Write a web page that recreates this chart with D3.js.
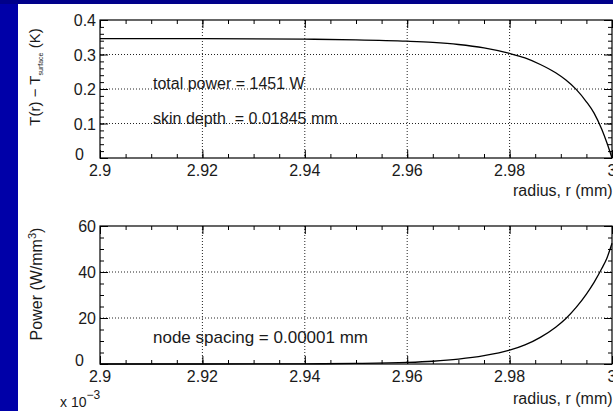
<!DOCTYPE html>
<html>
<head>
<meta charset="utf-8">
<script src="https://cdn.jsdelivr.net/npm/d3@7"></script>
<style>
  body { margin: 0; background: #fff; }
  svg { display: block; font-family: "Liberation Sans", Arial, sans-serif; }
</style>
</head>
<body>
<svg id="chart" width="613" height="411"></svg>
<script>
// radius values (mm)
const radius = [2.90, 2.92, 2.94, 2.95, 2.96, 2.965, 2.97, 2.975, 2.98, 2.983, 2.986, 2.989, 2.991, 2.993, 2.995, 2.9965, 2.998, 2.999, 3.0];
// T(r) - T_surface (K)
const tempDiff = [0.346, 0.3458, 0.3445, 0.3425, 0.3385, 0.335, 0.329, 0.319, 0.303, 0.290, 0.271, 0.247, 0.226, 0.199, 0.163, 0.130, 0.083, 0.044, 0.0];
// power density (W/mm^3)
const power = [0.0, 0.01, 0.08, 0.23, 0.68, 1.2, 2.1, 3.6, 6.0, 8.3, 11.6, 16.0, 19.8, 24.6, 30.4, 35.5, 41.5, 46.0, 52.5];

const xTicks = [2.9, 2.92, 2.94, 2.96, 2.98, 3.0];
const xTickLabels = ["2.9", "2.92", "2.94", "2.96", "2.98", "3"];
const topYTicks = [0, 0.1, 0.2, 0.3, 0.4];
const topYLabels = ["0", "0.1", "0.2", "0.3", "0.4"];
const botYTicks = [0, 20, 40, 60];
const botYLabels = ["0", "20", "40", "60"];

const svg = d3.select('#chart');
const ink = '#1a1a1a';

// slide background
svg.append('rect').attr('x', 0).attr('y', 0).attr('width', 613).attr('height', 411).attr('fill', '#0000a8');
svg.append('rect').attr('x', 0).attr('y', 0).attr('width', 613).attr('height', 4).attr('fill', '#00008a');
svg.append('rect').attr('x', 18).attr('y', 4).attr('width', 595).attr('height', 407).attr('fill', '#fff');

const x = d3.scaleLinear().domain([2.9, 3.0]).range([100, 612]);

function drawPanel(y, values, yTicks, yLabels, yMinorStep, gridY) {
    const [y0, y1] = y.range();
    const g = svg.append('g');

    // grid
    g.selectAll('.vgrid').data(xTicks.slice(1, -1)).enter().append('line')
        .attr('x1', d => x(d)).attr('x2', d => x(d))
        .attr('y1', y1).attr('y2', y0)
        .attr('stroke', '#222').attr('stroke-width', 1).attr('stroke-dasharray', '1,2');
    g.selectAll('.hgrid').data(gridY).enter().append('line')
        .attr('x1', 100).attr('x2', 612)
        .attr('y1', d => y(d)).attr('y2', d => y(d))
        .attr('stroke', '#222').attr('stroke-width', 1).attr('stroke-dasharray', '1,2');

    // minor + major ticks on all four sides, pointing inward
    const xMinor = d3.range(0, 21).map(i => 2.9 + i * 0.005);
    const yMinor = d3.range(0, Math.round((y.domain()[1]) / yMinorStep) + 1).map(i => i * yMinorStep);

    const tick = (axis, vals, size, transform) => g.append('g')
        .attr('transform', transform)
        .call(axis.tickValues(vals).tickSize(size).tickFormat('').tickSizeOuter(0))
        .call(s => s.select('.domain').remove())
        .call(s => s.selectAll('line').attr('stroke', '#000'));

    tick(d3.axisBottom(x), xMinor, -4, `translate(0,${y0})`);
    tick(d3.axisBottom(x), xTicks, -8, `translate(0,${y0})`);
    tick(d3.axisTop(x), xMinor, -4, `translate(0,${y1})`);
    tick(d3.axisTop(x), xTicks, -8, `translate(0,${y1})`);
    tick(d3.axisLeft(y), yMinor, -4, 'translate(100,0)');
    tick(d3.axisLeft(y), yTicks, -8, 'translate(100,0)');
    tick(d3.axisRight(y), yMinor, -4, 'translate(612,0)');
    tick(d3.axisRight(y), yTicks, -8, 'translate(612,0)');

    // frame
    g.append('rect').attr('x', 100).attr('y', y1).attr('width', 512).attr('height', y0 - y1)
        .attr('fill', 'none').attr('stroke', '#000').attr('stroke-width', 1.2);

    // curve
    const line = d3.line().x((d, i) => x(radius[i])).y(d => y(d)).curve(d3.curveMonotoneX);
    g.append('path').datum(values).attr('d', line)
        .attr('fill', 'none').attr('stroke', '#000').attr('stroke-width', 1.3);

    // tick labels
    g.selectAll('.xl').data(xTicks).enter().append('text')
        .attr('x', d => x(d)).attr('y', y0 + 18)
        .attr('text-anchor', 'middle').attr('font-size', 16).attr('fill', ink)
        .text((d, i) => xTickLabels[i]);
    g.selectAll('.yl').data(yTicks).enter().append('text')
        .attr('x', d => d === 0 ? 84 : 96).attr('y', d => y(d) + (d === 0 ? 2 : 6))
        .attr('text-anchor', 'end').attr('font-size', 16).attr('fill', ink)
        .text((d, i) => yLabels[i]);
    return g;
}

const yTop = d3.scaleLinear().domain([0, 0.4]).range([158, 20]);
const yBot = d3.scaleLinear().domain([0, 60]).range([364, 226]);

drawPanel(yTop, tempDiff, topYTicks, topYLabels, 0.02, [0.1, 0.2, 0.3]);
drawPanel(yBot, power, botYTicks, botYLabels, 5, [20, 40]);

// annotations
svg.append('text').attr('x', 153).attr('y', 89).attr('font-size', 16).attr('fill', ink).text('total power = 1451 W');
svg.append('text').attr('x', 153).attr('y', 124).attr('font-size', 16).attr('fill', ink)
    .attr('xml:space', 'preserve').style('white-space', 'pre').text('skin depth  = 0.01845 mm');
svg.append('text').attr('x', 153).attr('y', 343).attr('font-size', 17).attr('fill', ink).text('node spacing = 0.00001 mm');

// axis titles
svg.append('text').attr('x', 513).attr('y', 196).attr('font-size', 16).attr('fill', ink).text('radius, r (mm)');
svg.append('text').attr('x', 513).attr('y', 404).attr('font-size', 16).attr('fill', ink).text('radius, r (mm)');

const tTitle = svg.append('text').attr('transform', 'translate(40,77) rotate(-90)')
    .attr('text-anchor', 'middle').attr('font-size', 15).attr('fill', ink);
tTitle.append('tspan').text('T(r) \u2212 T');
tTitle.append('tspan').attr('font-size', 7).attr('dy', 3).text('surface');
tTitle.append('tspan').attr('dy', -3).text(' (K)');

const pTitle = svg.append('text').attr('transform', 'translate(42,284) rotate(-90)')
    .attr('text-anchor', 'middle').attr('font-size', 16).attr('fill', ink);
pTitle.append('tspan').text('Power (W/mm');
pTitle.append('tspan').attr('font-size', 11).attr('dy', -6).text('3');
pTitle.append('tspan').attr('dy', 6).text(')');

const exp = svg.append('text').attr('x', 60).attr('y', 407).attr('font-size', 14).attr('fill', ink);
exp.append('tspan').text('x 10');
exp.append('tspan').attr('font-size', 12).attr('dy', -8).text('\u22123');
</script>
</body>
</html>
